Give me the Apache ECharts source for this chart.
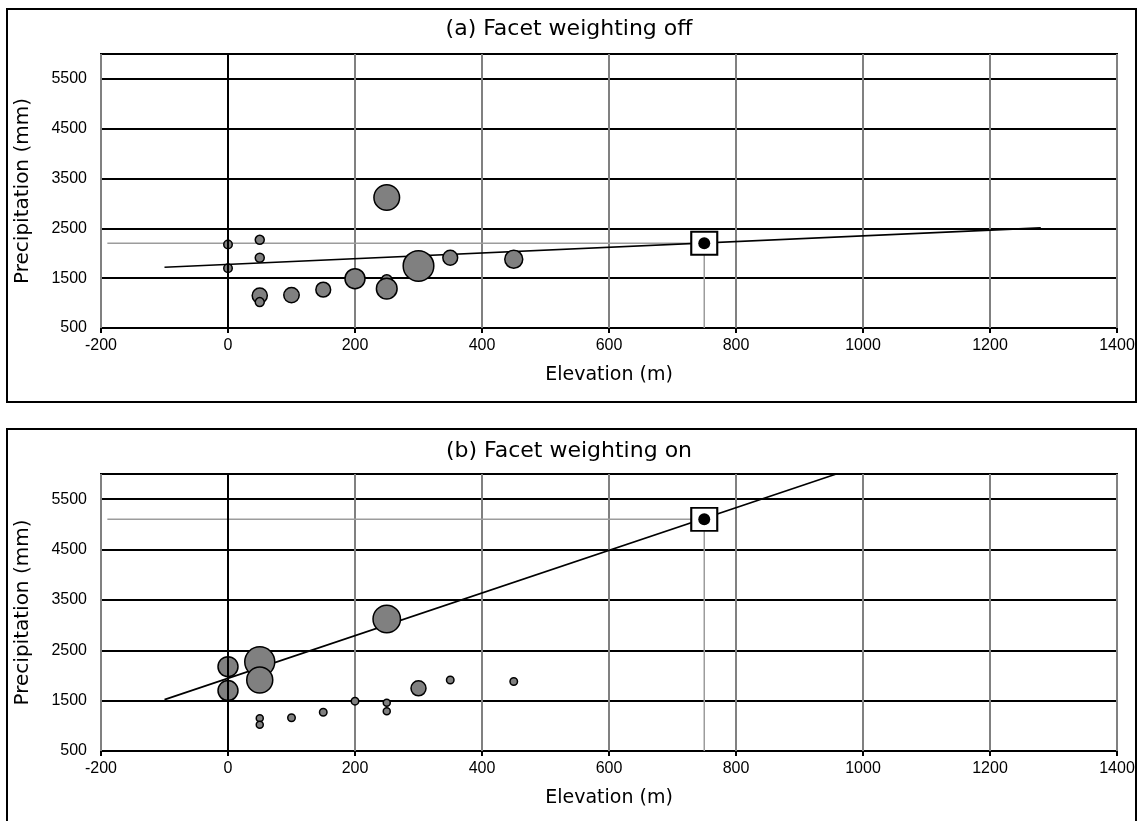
<!DOCTYPE html>
<html><head><meta charset="utf-8">
<script src="https://cdn.jsdelivr.net/npm/echarts@6/dist/echarts.min.js"></script>
<style>html,body{margin:0;padding:0;background:#fff}#c{width:1138px;height:821px}</style>
</head><body><div id="c"></div>
<script>
// ---- data ----
const panelTitles = ['(a) Facet weighting off', '(b) Facet weighting on'];
const elevation     = [0,    0,    50,   50,   50,   50,   100,  150,  200,  250,  250,  250,  300,  350,  450];
const precipitation = [2175, 1700, 2270, 1910, 1150, 1020, 1160, 1270, 1490, 3120, 1460, 1290, 1745, 1910, 1880];
// relative station weights (bubble area)
const weightOff = [0.9, 0.9, 1.0, 1.0, 2.6, 1.0, 2.7, 2.5, 4.4, 7.1, 1.4, 4.7, 10.0, 2.5, 3.6];
const weightOn  = [4.4, 4.4, 9.6, 7.3, 0.64, 0.64, 0.72, 0.72, 0.72, 8.1, 0.64, 0.64, 2.56, 0.72, 0.72];
// fitted regression line end points
const fitOffElev   = [-100, 1280];
const fitOffPrecip = [1720, 2510];
const fitOnElev    = [-100, 958];
const fitOnPrecip  = [1520, 6000];
// target cell estimate
const targetElev = 750;
const targetPrecipOff = 2200;
const targetPrecipOn  = 5100;
const guideStartElev = -190;
// axes
const xTicks = [-200, 0, 200, 400, 600, 800, 1000, 1200, 1400];
const yTicks = [500, 1500, 2500, 3500, 4500, 5500];
const xMin = -200, xMax = 1400, xStep = 200;
const yMin = 500, yMax = 6000, yStep = 1000;

// ---- chart ----
const chart = echarts.init(document.getElementById('c'), null, {renderer: 'canvas'});
const tickFont = "'Liberation Sans Narrow', 'Liberation Sans', Arial, sans-serif";
const textFont = 'DejaVu Sans';

function xAxisFor(g) {
  return {
    type: 'value', gridIndex: g, min: xMin, max: xMax, interval: xStep,
    name: 'Elevation (m)', nameLocation: 'middle', nameGap: 38,
    nameTextStyle: {fontFamily: textFont, fontSize: 19, color: '#000'},
    axisLine: {show: false},
    axisTick: {show: true, length: 5, lineStyle: {color: '#000', width: 2}},
    axisLabel: {fontFamily: tickFont, fontSize: 16, color: '#000', margin: 10,
      formatter: v => xTicks.includes(v) ? String(v) : ''},
    splitLine: {show: true, lineStyle: {color: '#808080', width: 2}}
  };
}
function yAxisFor(g) {
  return {
    type: 'value', gridIndex: g, min: yMin, max: yMax, interval: yStep,
    name: 'Precipitation (mm)', nameLocation: 'middle', nameGap: 68,
    nameTextStyle: {fontFamily: textFont, fontSize: 20, color: '#000'},
    axisLine: {show: false},
    axisTick: {show: false},
    axisLabel: {fontFamily: tickFont, fontSize: 16, color: '#000', margin: 14,
      showMaxLabel: false,
      formatter: v => yTicks.includes(v) ? String(v) : ''},
    splitLine: {show: true, lineStyle: {color: '#000', width: 2}}
  };
}

function panelSeries(g, weights, fitE, fitP, targetP) {
  const pts = elevation.map((e, i) => [e, precipitation[i], weights[i]]);
  return [
    {
      type: 'line', xAxisIndex: g, yAxisIndex: g, z: 2, silent: true,
      data: [[guideStartElev, targetP], [targetElev, targetP], [targetElev, yMin]],
      showSymbol: false, symbol: 'none',
      lineStyle: {color: '#9c9c9c', width: 1.5},
      markLine: {silent: true, symbol: ['none', 'none'], label: {show: false},
        lineStyle: {color: '#000', width: 2, type: 'solid'}, data: [{xAxis: 0}]}
    },
    {
      type: 'line', xAxisIndex: g, yAxisIndex: g, z: 3, silent: true,
      data: fitE.map((e, i) => [e, fitP[i]]),
      showSymbol: false, symbol: 'none',
      lineStyle: {color: '#000', width: 1.6}
    },
    {
      type: 'scatter', xAxisIndex: g, yAxisIndex: g, z: 4, silent: true,
      data: pts,
      symbol: 'circle',
      symbolSize: d => Math.max(10 * Math.sqrt(d[2]) - 1, 4),
      itemStyle: {color: '#808080', borderColor: '#000', borderWidth: 1.5, opacity: 1}
    },
    {
      type: 'scatter', xAxisIndex: g, yAxisIndex: g, z: 5, silent: true,
      data: [[targetElev, targetP]],
      symbol: 'rect', symbolSize: [26, 23],
      itemStyle: {color: '#fff', borderColor: '#000', borderWidth: 2, opacity: 1}
    },
    {
      type: 'scatter', xAxisIndex: g, yAxisIndex: g, z: 6, silent: true,
      data: [[targetElev, targetP]],
      symbol: 'circle', symbolSize: 12,
      itemStyle: {color: '#000', opacity: 1}
    }
  ];
}

chart.setOption({
  animation: false,
  backgroundColor: '#fff',
  title: [
    {text: panelTitles[0], left: 'center', top: 13,
      textStyle: {fontFamily: textFont, fontSize: 22, fontWeight: 'normal', color: '#000'}},
    {text: panelTitles[1], left: 'center', top: 435,
      textStyle: {fontFamily: textFont, fontSize: 22, fontWeight: 'normal', color: '#000'}}
  ],
  graphic: [
    {type: 'rect', shape: {x: 7, y: 9, width: 1129, height: 393}, style: {fill: 'none', stroke: '#000', lineWidth: 2}, z: 0},
    {type: 'rect', shape: {x: 7, y: 429, width: 1129, height: 420}, style: {fill: 'none', stroke: '#000', lineWidth: 2}, z: 0}
  ],
  grid: [
    {left: 101, top: 54, width: 1016, height: 274, show: true, borderColor: '#000', borderWidth: 2, backgroundColor: 'transparent'},
    {left: 101, top: 474, width: 1016, height: 277, show: true, borderColor: '#000', borderWidth: 2, backgroundColor: 'transparent'}
  ],
  xAxis: [xAxisFor(0), xAxisFor(1)],
  yAxis: [yAxisFor(0), yAxisFor(1)],
  series: [
    ...panelSeries(0, weightOff, fitOffElev, fitOffPrecip, targetPrecipOff),
    ...panelSeries(1, weightOn, fitOnElev, fitOnPrecip, targetPrecipOn)
  ]
});
</script></body></html>
